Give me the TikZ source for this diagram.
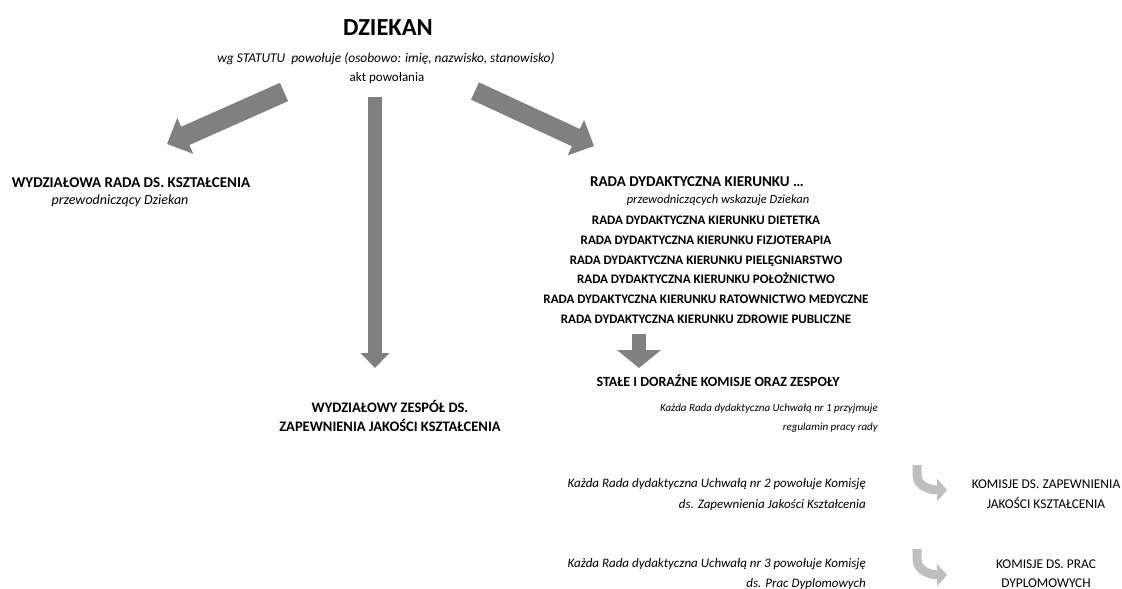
\documentclass[tikz,border=0pt]{standalone}
\usepackage{fontspec}
\setmainfont{Carlito}
\usetikzlibrary{arrows.meta}
\definecolor{arrowgray}{HTML}{808080}
\definecolor{lightarrow}{HTML}{BFBFBF}
\begin{document}
\begin{tikzpicture}[x=1pt,y=-1pt,
  txt/.style={anchor=base,inner sep=0pt,font=\fontsize{13}{15}\selectfont},
  bld/.style={txt,font=\fontsize{13}{15}\selectfont\bfseries},
  head/.style={txt,font=\fontsize{15}{17}\selectfont\bfseries},
  itl/.style={txt,font=\fontsize{13}{15}\selectfont\itshape},
  itr/.style={itl,anchor=base east},
  bigarrow/.style={draw=arrowgray,line cap=butt},
  curvearrow/.style={draw=lightarrow,line width=9pt,line cap=butt,
    -{Triangle[length=10pt,width=22pt]}}
]
\useasboundingbox (0,0) rectangle (1122,589);

% top
\node[txt,font=\fontsize{24.5}{28}\selectfont\bfseries] (dziekan) at (388,35) {DZIEKAN};
\node[itl,font=\fontsize{13.4}{15}\selectfont\itshape] (statut) at (386,62) {wg STATUTU\ \ powołuje (osobowo: imię, nazwisko, stanowisko)};
\node[txt] (akt) at (387,81) {akt powołania};

% left group
\node[head] (wrk) at (131,187) {WYDZIAŁOWA RADA DS. KSZTAŁCENIA};
\node[itl,font=\fontsize{14}{16}\selectfont\itshape] (wrkp) at (120,204) {przewodniczący Dziekan};

% middle group
\node[head,font=\fontsize{14.5}{17}\selectfont\bfseries] (wz1) at (390,412) {WYDZIAŁOWY ZESPÓŁ DS.};
\node[head,font=\fontsize{14.5}{17}\selectfont\bfseries] (wz2) at (390,431) {ZAPEWNIENIA JAKOŚCI KSZTAŁCENIA};

% right group
\node[head] (rdk) at (697,186) {RADA DYDAKTYCZNA KIERUNKU …};
\node[itl,font=\fontsize{12.5}{15}\selectfont\itshape] (rdkp) at (718,203) {przewodniczących wskazuje Dziekan};
\node[bld] (rd1) at (706,224) {RADA DYDAKTYCZNA KIERUNKU DIETETKA};
\node[bld] (rd2) at (706,244) {RADA DYDAKTYCZNA KIERUNKU FIZJOTERAPIA};
\node[bld] (rd3) at (706,264) {RADA DYDAKTYCZNA KIERUNKU PIELĘGNIARSTWO};
\node[bld] (rd4) at (706,283) {RADA DYDAKTYCZNA KIERUNKU POŁOŻNICTWO};
\node[bld] (rd5) at (706,303) {RADA DYDAKTYCZNA KIERUNKU RATOWNICTWO MEDYCZNE};
\node[bld] (rd6) at (706,323) {RADA DYDAKTYCZNA KIERUNKU ZDROWIE PUBLICZNE};

\node[bld,font=\fontsize{14}{16}\selectfont\bfseries] (stale) at (718,386) {STAŁE I DORAŹNE KOMISJE ORAZ ZESPOŁY};
\node[itr,font=\fontsize{11}{13}\selectfont\itshape] (u1a) at (878,411) {Każda Rada dydaktyczna Uchwałą nr 1 przyjmuje};
\node[itr,font=\fontsize{11}{13}\selectfont\itshape] (u1b) at (878,430) {regulamin pracy rady};

\node[itr] (u2a) at (866,487) {Każda Rada dydaktyczna Uchwałą nr 2 powołuje Komisję};
\node[itr] (u2b) at (866,508) {ds. Zapewnienia Jakości Kształcenia};
\node[itr] (u3a) at (866,567) {Każda Rada dydaktyczna Uchwałą nr 3 powołuje Komisję};
\node[itr] (u3b) at (866,587) {ds. Prac Dyplomowych};

\node[txt,font=\fontsize{13.4}{15}\selectfont] (kzj1) at (1046,488) {KOMISJE DS. ZAPEWNIENIA};
\node[txt,font=\fontsize{13.4}{15}\selectfont] (kzj2) at (1046,508) {JAKOŚCI KSZTAŁCENIA};
\node[txt,font=\fontsize{13.4}{15}\selectfont] (kpd1) at (1046,568) {KOMISJE DS. PRAC};
\node[txt,font=\fontsize{13.4}{15}\selectfont] (kpd2) at (1046,587) {DYPLOMOWYCH};

% arrow coordinates
\coordinate (la0) at (284,92);  \coordinate (la1) at (167,144);
\coordinate (ra0) at (475,91);  \coordinate (ra1) at (594,146);
\coordinate (ma0) at (375,97);  \coordinate (ma1) at (375,368);
\coordinate (sa0) at (639,334); \coordinate (sa1) at (639,368);
\coordinate (c1a) at (917,465); \coordinate (c1b) at (947,490);
\coordinate (c2a) at (917,549); \coordinate (c2b) at (947,575);

\draw[bigarrow,line width=20pt,-{Triangle[length=20pt,width=38pt]}] (la0) -- (la1);
\draw[bigarrow,line width=19pt,-{Triangle[length=20pt,width=38pt]}] (ra0) -- (ra1);
\draw[bigarrow,line width=14pt,-{Triangle[length=15pt,width=28pt]}] (ma0) -- (ma1);
\draw[bigarrow,line width=14pt,-{Triangle[length=18pt,width=43pt]}] (sa0) -- (sa1);

\draw[curvearrow] (c1a) -- ++(0,10) to[out=-90,in=180] (c1b);
\draw[curvearrow] (c2a) -- ++(0,10) to[out=-90,in=180] (c2b);
\end{tikzpicture}
\end{document}
